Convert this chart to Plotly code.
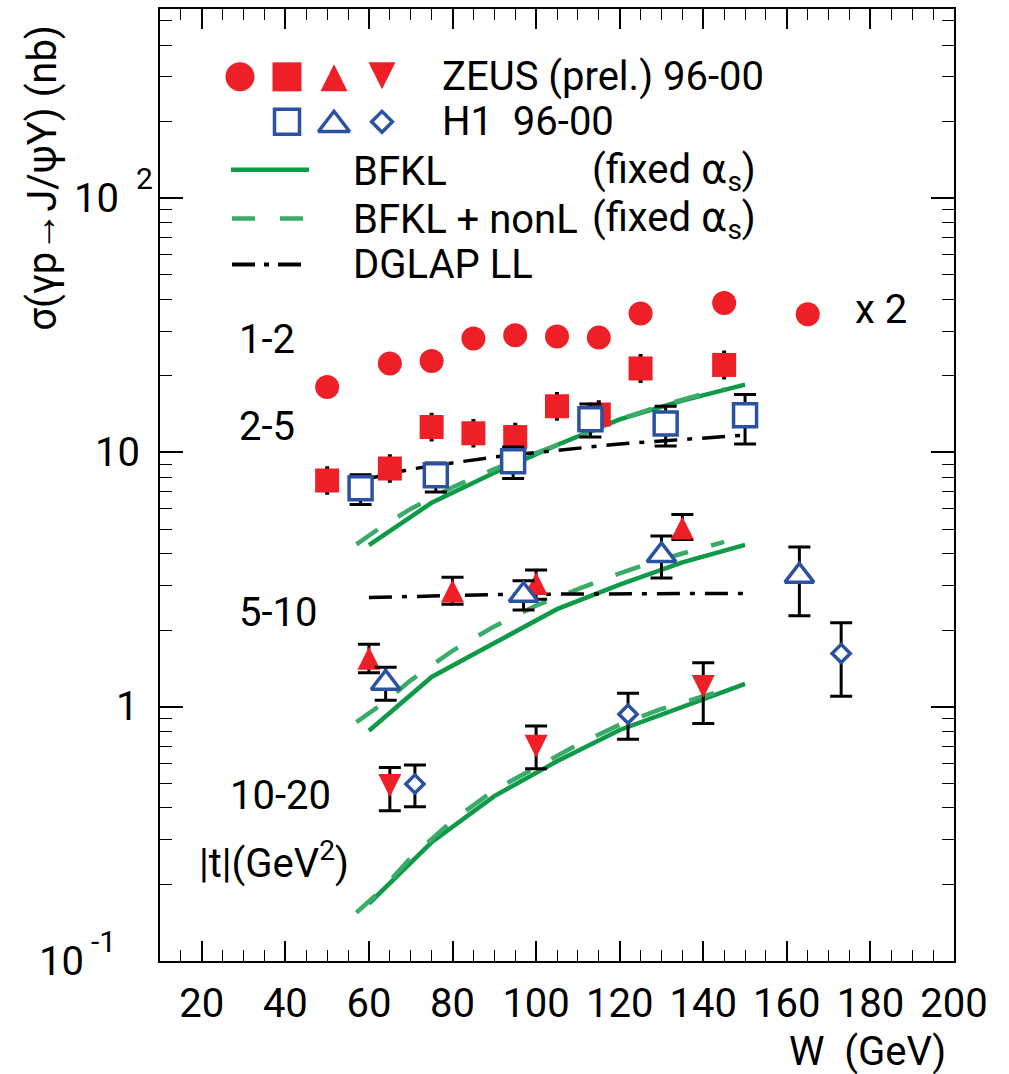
import math
import plotly.graph_objects as go

# ---------------- data ----------------
# ZEUS (prel.) 96-00
zeus_W_t12 = [50, 65, 75, 85, 95, 105, 115, 125, 145, 165]
zeus_sig_t12_x2 = [18.1, 22.4, 22.9, 28.1, 28.9, 28.6, 28.3, 35.2, 38.7, 35.0]

zeus_W_t25 = [50, 65, 75, 85, 95, 105, 115, 125, 145]
zeus_sig_t25 = [7.76, 8.65, 12.6, 11.9, 11.5, 15.2, 14.1, 21.4, 22.1]
zeus_up_t25 = [0.95, 1.05, 1.55, 1.45, 1.4, 1.85, 1.75, 2.65, 2.75]
zeus_dn_t25 = [0.85, 0.95, 1.4, 1.3, 1.3, 1.7, 1.55, 2.4, 2.45]

zeus_W_t510 = [60, 80, 100, 135]
zeus_sig_t510 = [1.55, 2.85, 3.05, 5.05]
zeus_up_t510 = [0.21, 0.38, 0.40, 0.65]
zeus_dn_t510 = [0.19, 0.32, 0.40, 0.50]

zeus_W_t1020 = [65, 100, 140]
zeus_sig_t1020 = [0.49, 0.70, 1.20]
zeus_up_t1020 = [0.087, 0.14, 0.29]
zeus_dn_t1020 = [0.10, 0.13, 0.34]

# H1 96-00
h1_W_t25 = [58, 76, 94.5, 113, 131, 150]
h1_sig_t25 = [7.23, 8.13, 9.23, 13.5, 13.0, 14.0]
h1_up_t25 = [0.94, 0.97, 1.27, 2.0, 2.2, 2.9]
h1_dn_t25 = [0.98, 1.13, 1.33, 2.0, 2.4, 3.2]

h1_W_t510 = [64, 97, 130, 163]
h1_sig_t510 = [1.24, 2.75, 3.94, 3.27]
h1_up_t510 = [0.19, 0.38, 0.75, 0.98]
h1_dn_t510 = [0.18, 0.35, 0.73, 0.99]

h1_W_t1020 = [71, 122, 173]
h1_sig_t1020 = [0.497, 0.935, 1.62]
h1_up_t1020 = [0.093, 0.195, 0.52]
h1_dn_t1020 = [0.093, 0.19, 0.52]

# BFKL (fixed alpha_s)
bfkl_W = [60, 75, 90, 105, 120, 135, 150]
bfkl_t25 = [4.32, 6.34, 8.32, 10.7, 13.5, 16.0, 18.5]
bfkl_t510 = [0.805, 1.31, 1.78, 2.42, 3.02, 3.7, 4.33]
bfkl_t1020 = [0.168, 0.293, 0.445, 0.61, 0.81, 1.0, 1.23]

# BFKL + nonL (fixed alpha_s)
nonl_W = [57, 63, 70, 80, 90, 100, 110, 120, 130, 140, 145]
nonl_t25 = [4.35, 5.1, 6.0, 7.3, 8.6, 9.9, 11.5, 13.5, 15.3, 17.0, 17.8]
nonl_t510 = [0.87, 1.02, 1.27, 1.66, 2.07, 2.5, 2.9, 3.35, 3.8, 4.25, 4.45]
nonl_t1020 = [0.155, 0.19, 0.255, 0.357, 0.47, 0.575, 0.71, 0.85, 0.98, 1.1, 1.16]

# DGLAP LL
dglap_W = [60, 70, 80, 90, 100, 110, 120, 130, 140, 150]
dglap_t25 = [7.9, 8.6, 9.1, 9.6, 10.0, 10.4, 10.8, 11.1, 11.4, 11.7]
dglap_t510 = [2.69, 2.72, 2.75, 2.76, 2.77, 2.78, 2.78, 2.78, 2.79, 2.79]

# axis tick labels
xtick_vals = [20, 40, 60, 80, 100, 120, 140, 160, 180, 200]
ytick_vals = [0.1, 1, 10, 100]
ytick_base = ["10", "1", "10", "10"]
ytick_exp = ["-1", "", "", "2"]

t_labels = ["1-2", "2-5", "5-10", "10-20"]

# ---------------- style ----------------
RED = "#ee1f26"
BLUE = "#2b51a3"
GREEN = "#0e9a47"
GREEN2 = "#3aab68"
FONT = "Roboto"
FS = 40
ALPHA = '<span style="font-family:DejaVu Sans">α</span>'

W_PX, H_PX = 1009, 1074
ML, MR, MT, MB = 160, 55, 7, 113
PW, PH = W_PX - ML - MR, H_PX - MT - MB


def px2paper_x(px):
    return (px - ML) / PW


def px2paper_y(py):
    return (H_PX - MB - py) / PH


# centred, near-equilateral triangles (ROOT style)
def tri_up(size):
    return dict(symbol="arrow-down", angle=180, standoff=size / 2, size=size)


def tri_down(size):
    return dict(symbol="arrow-down", angle=0, standoff=size / 2, size=size)


fig = go.Figure()


def line(x, y, color, width, dash="solid"):
    fig.add_trace(go.Scatter(x=x, y=y, mode="lines",
                             line=dict(color=color, width=width, dash=dash),
                             showlegend=False, hoverinfo="skip"))


# theory curves
for ys in (bfkl_t25, bfkl_t510, bfkl_t1020):
    line(bfkl_W, ys, GREEN, 4.5)
for ys in (nonl_t25, nonl_t510, nonl_t1020):
    line(nonl_W, ys, GREEN2, 4.5, dash="26px,24px")
for ys in (dglap_t25, dglap_t510):
    line(dglap_W, ys, "black", 3.5, dash="23px,10px,5px,10px")


def pts(x, y, shape, fill, edge=None, up=None, dn=None, capw=11):
    err = None
    if up is not None:
        err = dict(type="data", symmetric=False, array=up, arrayminus=dn,
                   color="black", thickness=3, width=capw)
    mk = dict(shape, color=fill)
    if edge:
        mk["line"] = dict(color=edge, width=3.5)
    else:
        mk["line"] = dict(width=0)
    fig.add_trace(go.Scatter(x=x, y=y, mode="markers", marker=mk, error_y=err,
                             showlegend=False, hoverinfo="skip", cliponaxis=False))


# ZEUS
pts(zeus_W_t12, zeus_sig_t12_x2, dict(symbol="circle", size=24), RED)
pts(zeus_W_t25, zeus_sig_t25, dict(symbol="square", size=24), RED,
    up=zeus_up_t25, dn=zeus_dn_t25, capw=2)
pts(zeus_W_t510, zeus_sig_t510, tri_up(23), RED, up=zeus_up_t510, dn=zeus_dn_t510)
pts(zeus_W_t1020, zeus_sig_t1020, tri_down(23), RED, up=zeus_up_t1020, dn=zeus_dn_t1020)
# H1
pts(h1_W_t25, h1_sig_t25, dict(symbol="square", size=23), "white", BLUE, up=h1_up_t25, dn=h1_dn_t25)
pts(h1_W_t510, h1_sig_t510, dict(symbol="triangle-up", size=25), "white", BLUE,
    up=h1_up_t510, dn=h1_dn_t510)
pts(h1_W_t1020, h1_sig_t1020, dict(symbol="diamond", size=14), "white", BLUE,
    up=h1_up_t1020, dn=h1_dn_t1020)


# ---------------- legend (drawn in a pixel overlay) ----------------
def lg_marker(x, y, shape, fill, edge=None):
    mk = dict(shape, color=fill,
              line=dict(color=edge, width=3.5) if edge else dict(width=0))
    fig.add_trace(go.Scatter(x=[x], y=[y], mode="markers", marker=mk, xaxis="x2", yaxis="y2",
                             showlegend=False, hoverinfo="skip", cliponaxis=False))


def lg_line(x0, x1, y, color, width, dash="solid"):
    fig.add_trace(go.Scatter(x=[x0, x1], y=[y, y], mode="lines", xaxis="x2", yaxis="y2",
                             line=dict(color=color, width=width, dash=dash),
                             showlegend=False, hoverinfo="skip"))


lg_marker(240, 75, dict(symbol="circle", size=29), RED)
lg_marker(287, 75, dict(symbol="square", size=29), RED)
lg_marker(334, 76, tri_up(27), RED)
lg_marker(382, 74, tri_down(27), RED)
lg_marker(287, 120, dict(symbol="square", size=25), "white", BLUE)
lg_marker(334, 123, dict(symbol="triangle-up", size=27), "white", BLUE)
lg_marker(382, 120, dict(symbol="diamond", size=16), "white", BLUE)
lg_line(231, 309, 168, GREEN, 4.5)
lg_line(232, 304, 217, GREEN2, 4.5, dash="23px,25px")
lg_line(232, 304, 263, "black", 4, dash="23px,9px,5px,9px")

ann = []


def txt(x, y, s, size=FS, xanchor="left", yanchor="middle", **kw):
    ann.append(dict(x=px2paper_x(x), y=px2paper_y(y), xref="paper", yref="paper", text=s,
                    showarrow=False, xanchor=xanchor, yanchor=yanchor,
                    font=dict(family=FONT, size=size, color="black"), **kw))


txt(440, 75, "ZEUS (prel.) 96-00")
txt(440, 120, "H1  96-00")
txt(351, 170, "BFKL")
txt(590, 170, "(fixed " + ALPHA + "<sub>s</sub>)")
txt(351, 218, "BFKL + nonL")
txt(590, 218, "(fixed " + ALPHA + "<sub>s</sub>)")
txt(351, 263, "DGLAP LL")
txt(853, 308, "x 2")

# |t| bin labels
t_pos = [(237, 338), (237, 425), (237, 612), (228, 795)]
for lab, (px, py) in zip(t_labels, t_pos):
    txt(px, py, lab)
txt(197, 860, "|t|(GeV<sup>2</sup>)")

# y tick labels (placed at the axis values of the log axis)
ybase_right = [86, 140, 142, 121]
yexp_left = [89, None, None, 134]
for v, b, e, br, el in zip(ytick_vals, ytick_base, ytick_exp, ybase_right, yexp_left):
    ann.append(dict(x=px2paper_x(br), y=math.log10(v), xref="paper", yref="y", text=b,
                    showarrow=False, xanchor="right", yanchor="middle",
                    font=dict(family=FONT, size=FS, color="black")))
    if e:
        ann.append(dict(x=px2paper_x(el), y=math.log10(v), xref="paper", yref="y", text=e,
                        showarrow=False, xanchor="left", yanchor="middle", yshift=20,
                        font=dict(family=FONT, size=30, color="black")))

# axis titles
txt(43, 176, "σ(γp→J/ψY) (nb)", xanchor="center", textangle=-90)
txt(948, 1052, "W  (GeV)", xanchor="right")

fig.update_layout(
    width=W_PX, height=H_PX,
    margin=dict(l=ML, r=MR, t=MT, b=MB, pad=0),
    paper_bgcolor="white", plot_bgcolor="white",
    showlegend=False,
    annotations=ann,
    xaxis=dict(range=[10, 200], tickmode="array", tickvals=xtick_vals,
               ticks="inside", ticklen=20, tickwidth=1.5, tickcolor="black",
               minor=dict(ticks="inside", ticklen=11, tickwidth=1.2, tickcolor="black",
                          dtick=5, tick0=0, showgrid=False),
               showline=True, linecolor="black", linewidth=2, mirror="ticks",
               showgrid=False, zeroline=False,
               tickfont=dict(family=FONT, size=FS, color="black"),
               ticklabelstandoff=6),
    yaxis=dict(type="log", range=[-1, math.log10(555)], tickmode="linear", tick0=0, dtick=1,
               ticks="inside", ticklen=23, tickwidth=1.5, tickcolor="black",
               minor=dict(ticks="inside", ticklen=12, tickwidth=1.2, tickcolor="black",
                          dtick="D1", showgrid=False),
               showline=True, linecolor="black", linewidth=2, mirror="ticks",
               showgrid=False, zeroline=False, showticklabels=False),
    xaxis2=dict(overlaying="x", range=[ML, W_PX - MR], visible=False, anchor="y2"),
    yaxis2=dict(overlaying="y", range=[H_PX - MB, MT], visible=False, anchor="x2"),
)

fig.write_html("out.html")
